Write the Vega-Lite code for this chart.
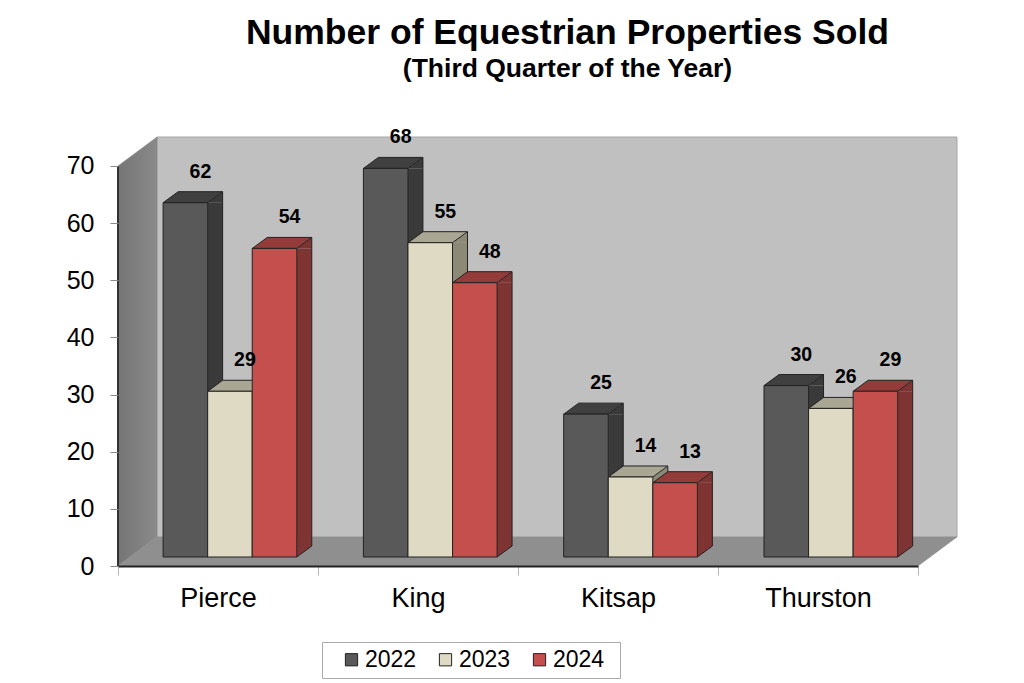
{"$schema":"https://vega.github.io/schema/vega-lite/v6.json","width":839,"height":429,"autosize":{"type":"none"},"padding":{"left":118,"top":137,"right":67,"bottom":117},"background":"white","title":{"text":"Number of Equestrian Properties Sold","subtitle":"(Third Quarter of the Year)","anchor":"middle","dx":30,"offset":45,"font":"Liberation Sans","fontSize":35.5,"fontWeight":"bold","color":"#000","subtitleFont":"Liberation Sans","subtitleFontSize":26.5,"subtitleFontWeight":"bold","subtitleColor":"#000","subtitlePadding":4},"config":{"view":{"stroke":null},"font":"Liberation Sans"},"datasets":{"bars":[{"county":"Pierce","year":"2022","value":62},{"county":"Pierce","year":"2023","value":29},{"county":"Pierce","year":"2024","value":54},{"county":"King","year":"2022","value":68},{"county":"King","year":"2023","value":55},{"county":"King","year":"2024","value":48},{"county":"Kitsap","year":"2022","value":25},{"county":"Kitsap","year":"2023","value":14},{"county":"Kitsap","year":"2024","value":13},{"county":"Thurston","year":"2022","value":30},{"county":"Thurston","year":"2023","value":26},{"county":"Thurston","year":"2024","value":29}],"walls":[{"face":"back","depth":39,"level":5.07},{"face":"back","depth":839,"level":5.07},{"face":"back","depth":839,"level":75.07},{"face":"back","depth":39,"level":75.07},{"face":"side","depth":0,"level":0},{"face":"side","depth":39,"level":5.07},{"face":"side","depth":39,"level":75.07},{"face":"side","depth":0,"level":70},{"face":"floor","depth":0,"level":0},{"face":"floor","depth":39,"level":5.07},{"face":"floor","depth":839,"level":5.07},{"face":"floor","depth":800,"level":0}]},"resolve":{"scale":{"x":"independent","xOffset":"independent","fill":"independent","stroke":"independent"},"axis":{"x":"independent","y":"independent"},"legend":{"fill":"independent"}},"layer":[{"data":{"name":"walls"},"transform":[{"filter":"datum.face=='back'"}],"mark":{"type":"line","interpolate":"linear-closed","fill":"#c0c0c0","stroke":"#a6a6a6","strokeWidth":1},"encoding":{"x":{"field":"depth","type":"quantitative","scale":{"domain":[0,839],"nice":false,"zero":false},"axis":null},"y":{"field":"level","type":"quantitative","scale":{"domain":[0,75.07],"nice":false},"axis":{"values":[0,10,20,30,40,50,60,70],"title":null,"grid":false,"domain":false,"tickSize":8,"tickColor":"#888","labelFontSize":25,"labelFont":"Liberation Sans","labelColor":"#000","labelPadding":16,"zindex":1}},"order":{"value":null}}},{"data":{"name":"walls"},"transform":[{"filter":"datum.face=='side'"}],"mark":{"type":"line","interpolate":"linear-closed","fill":{"gradient":"linear","x1":0,"x2":1,"y1":0,"y2":0,"stops":[{"offset":0,"color":"#757575"},{"offset":1,"color":"#8a8a8a"}]},"stroke":"#808080","strokeWidth":0.5},"encoding":{"x":{"field":"depth","type":"quantitative","scale":{"domain":[0,839],"nice":false,"zero":false},"axis":null},"y":{"field":"level","type":"quantitative","axis":null},"order":{"value":null}}},{"data":{"name":"walls"},"transform":[{"filter":"datum.face=='floor'"}],"mark":{"type":"line","interpolate":"linear-closed","fill":"#8f8f8f","stroke":"#8f8f8f","strokeWidth":0.5},"encoding":{"x":{"field":"depth","type":"quantitative","scale":{"domain":[0,839],"nice":false,"zero":false},"axis":null},"y":{"field":"level","type":"quantitative","axis":null},"order":{"value":null}}},{"data":{"name":"bars"},"mark":{"type":"bar","opacity":0},"encoding":{"x":{"field":"county","type":"nominal","sort":["Pierce","King","Kitsap","Thurston"],"scale":{"domain":["Pierce","King","Kitsap","Thurston"],"range":[0,800],"paddingInner":0,"paddingOuter":0},"axis":{"title":null,"labelAngle":0,"labelFontSize":27,"labelFont":"Liberation Sans","labelColor":"#000","labelPadding":10,"tickBand":"extent","tickSize":9,"tickColor":"#b8b8b8","domainColor":"#222","domainWidth":2,"zindex":1}},"y":{"datum":0,"type":"quantitative","axis":null}}},{"data":{"name":"bars"},"mark":{"type":"rule","strokeWidth":15,"yOffset":-9,"y2Offset":-20},"encoding":{"x":{"field":"county","type":"nominal","sort":["Pierce","King","Kitsap","Thurston"],"scale":{"domain":["Pierce","King","Kitsap","Thurston"],"range":[41.55,842.75],"paddingInner":0.3325,"paddingOuter":0.16625},"axis":null},"xOffset":{"field":"year","type":"nominal"},"y":{"field":"value","type":"quantitative","axis":null},"y2":{"datum":0},"stroke":{"field":"year","type":"nominal","scale":{"domain":["2022","2023","2024"],"range":["#3a3a3a","#8c8a76","#7f3434"]},"legend":null}}},{"data":{"name":"bars"},"mark":{"type":"point","filled":true,"size":6400,"opacity":1,"strokeWidth":0,"yOffset":-9,"shape":"M0.55625 0 L0.93125 -0.275 L0.93125 0 Z"},"encoding":{"x":{"field":"county","type":"nominal","sort":["Pierce","King","Kitsap","Thurston"],"scale":{"domain":["Pierce","King","Kitsap","Thurston"],"range":[11.8,813],"paddingInner":0.3325,"paddingOuter":0.16625},"axis":null},"xOffset":{"field":"year","type":"nominal"},"y":{"field":"value","type":"quantitative","axis":null},"fill":{"field":"year","type":"nominal","scale":{"domain":["2022","2023","2024"],"range":["#3a3a3a","#8c8a76","#7f3434"]},"legend":null}}},{"data":{"name":"bars"},"mark":{"type":"point","filled":true,"size":6400,"opacity":1,"strokeWidth":0,"yOffset":-9,"shape":"M0.55625 0 L0.93125 -0.275 L0.55625 -0.275 Z"},"encoding":{"x":{"field":"county","type":"nominal","sort":["Pierce","King","Kitsap","Thurston"],"scale":{"domain":["Pierce","King","Kitsap","Thurston"],"range":[11.8,813],"paddingInner":0.3325,"paddingOuter":0.16625},"axis":null},"xOffset":{"field":"year","type":"nominal"},"y":{"datum":0,"type":"quantitative","axis":null},"fill":{"field":"year","type":"nominal","scale":{"domain":["2022","2023","2024"],"range":["#3a3a3a","#8c8a76","#7f3434"]},"legend":null}}},{"data":{"name":"bars"},"mark":{"type":"point","filled":false,"size":6400,"opacity":1,"stroke":"#222","strokeWidth":1,"yOffset":-9,"shape":"M0.55625 0 L0.93125 -0.275"},"encoding":{"x":{"field":"county","type":"nominal","sort":["Pierce","King","Kitsap","Thurston"],"scale":{"domain":["Pierce","King","Kitsap","Thurston"],"range":[11.8,813],"paddingInner":0.3325,"paddingOuter":0.16625},"axis":null},"xOffset":{"field":"year","type":"nominal"},"y":{"datum":0,"type":"quantitative","axis":null}}},{"data":{"name":"bars"},"mark":{"type":"rule","stroke":"#222","strokeWidth":1,"yOffset":-20,"y2Offset":-20},"encoding":{"x":{"field":"county","type":"nominal","sort":["Pierce","King","Kitsap","Thurston"],"scale":{"domain":["Pierce","King","Kitsap","Thurston"],"range":[49.05,850.25],"paddingInner":0.3325,"paddingOuter":0.16625},"axis":null},"xOffset":{"field":"year","type":"nominal"},"y":{"field":"value","type":"quantitative","axis":null},"y2":{"datum":0}}},{"data":{"name":"bars"},"mark":{"type":"point","filled":true,"size":6400,"opacity":1,"stroke":"#222","strokeWidth":1,"yOffset":-9,"shape":"M-0.55625 0 L0.55625 0 L0.93125 -0.275 L-0.18125 -0.275 Z"},"encoding":{"x":{"field":"county","type":"nominal","sort":["Pierce","King","Kitsap","Thurston"],"scale":{"domain":["Pierce","King","Kitsap","Thurston"],"range":[11.8,813],"paddingInner":0.3325,"paddingOuter":0.16625},"axis":null},"xOffset":{"field":"year","type":"nominal"},"y":{"field":"value","type":"quantitative","axis":null},"fill":{"field":"year","type":"nominal","scale":{"domain":["2022","2023","2024"],"range":["#404040","#a9a793","#933c3a"]},"legend":null}}},{"data":{"name":"bars"},"mark":{"type":"bar","stroke":"#222","strokeWidth":1,"yOffset":-9,"y2Offset":-9},"encoding":{"x":{"field":"county","type":"nominal","sort":["Pierce","King","Kitsap","Thurston"],"scale":{"domain":["Pierce","King","Kitsap","Thurston"],"range":[11.8,813],"paddingInner":0.3325,"paddingOuter":0.16625},"axis":null},"xOffset":{"field":"year","type":"nominal"},"y":{"field":"value","type":"quantitative","axis":null},"y2":{"datum":0},"fill":{"field":"year","type":"nominal","scale":{"domain":["2022","2023","2024"],"range":["#595959","#dedac3","#c44f4c"]},"legend":{"orient":"none","legendX":204,"legendY":505,"direction":"horizontal","columns":3,"title":" ","titleOrient":"right","titlePadding":10,"symbolOffset":12,"symbolType":"square","symbolSize":150,"symbolStrokeColor":"#222","symbolStrokeWidth":1,"labelFont":"Liberation Sans","labelFontSize":23,"labelColor":"#000","labelOffset":2,"columnPadding":5,"padding":6,"fillColor":"white","strokeColor":"#aaaaaa"}}}},{"data":{"name":"bars"},"mark":{"type":"text","font":"Liberation Sans","fontSize":19.5,"fontWeight":"bold","color":"#000","dx":15,"dy":-40,"baseline":"middle"},"encoding":{"x":{"field":"county","type":"nominal","sort":["Pierce","King","Kitsap","Thurston"],"scale":{"domain":["Pierce","King","Kitsap","Thurston"],"range":[11.8,813],"paddingInner":0.3325,"paddingOuter":0.16625},"axis":null},"xOffset":{"field":"year","type":"nominal"},"y":{"field":"value","type":"quantitative","axis":null},"text":{"field":"value","type":"quantitative"}}},{"data":{"name":"walls"},"transform":[{"filter":"datum.face=='side'"}],"mark":{"type":"rule","stroke":"#333","strokeWidth":1.5},"encoding":{"x":{"datum":0,"type":"quantitative","scale":{"domain":[0,839],"nice":false,"zero":false},"axis":null},"y":{"datum":0,"type":"quantitative","axis":null},"y2":{"datum":70}}}]}
